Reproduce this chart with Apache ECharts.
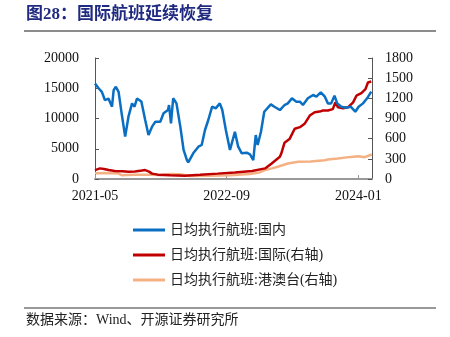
<!DOCTYPE html>
<html>
<head>
<meta charset="utf-8">
<script src="https://cdn.jsdelivr.net/npm/echarts@6/dist/echarts.min.js"></script>
<style>
html,body{margin:0;padding:0;background:#fff;}
#c{width:450px;height:337px;}
</style>
</head>
<body>
<div id="c"></div>
<script>
// ---- data ----
var tickLabels = ['2021-05', '2022-09', '2024-01'];
var seriesNames = ['日均执行航班:国内', '日均执行航班:国际(右轴)', '日均执行航班:港澳台(右轴)'];

var domesticDates = ['2021-05-01','2021-05-14','2021-05-26','2021-06-07','2021-06-20','2021-07-03','2021-07-09','2021-07-17','2021-07-27','2021-08-09','2021-08-21','2021-09-03','2021-09-16','2021-09-25','2021-10-04','2021-10-20','2021-11-04','2021-11-16','2021-11-29','2021-12-11','2021-12-29','2022-01-11','2022-01-27','2022-02-01','2022-02-08','2022-02-16','2022-02-28','2022-03-12','2022-03-24','2022-04-06','2022-04-11','2022-04-29','2022-05-18','2022-05-30','2022-06-12','2022-06-24','2022-07-08','2022-07-21','2022-08-06','2022-08-15','2022-08-28','2022-09-13','2022-10-01','2022-10-13','2022-10-26','2022-11-14','2022-11-26','2022-12-08','2022-12-17','2022-12-24','2023-01-06','2023-01-18','2023-01-25','2023-02-12','2023-02-25','2023-03-15','2023-04-02','2023-04-14','2023-04-29','2023-05-15','2023-05-28','2023-06-09','2023-06-27','2023-07-16','2023-07-28','2023-08-14','2023-08-29','2023-09-10','2023-09-22','2023-10-04','2023-10-14','2023-10-29','2023-11-16','2023-12-03','2023-12-20','2024-01-02','2024-01-18','2024-02-03','2024-02-18'];
var domesticValues = [15800,15000,14400,13050,13300,11950,14700,15250,14400,10570,7000,10300,12500,11950,13300,12800,9750,7270,8650,9470,9470,10860,11400,12230,9200,13340,12500,8650,4800,3140,2760,4250,5340,5620,8100,9750,11950,11680,12500,11400,8100,4800,7800,5340,4250,4350,4080,3140,7270,5620,7800,11120,11400,12340,11950,11400,12230,12500,13340,12780,12780,12230,13340,13890,13600,14330,13600,12500,12500,13770,12500,11950,11790,11950,11120,11950,12500,13340,14430];

var intlDates = ['2021-05-01','2021-05-19','2021-06-04','2021-06-21','2021-07-13','2021-08-10','2021-09-04','2021-09-27','2021-10-22','2021-11-04','2021-11-18','2021-11-29','2021-12-20','2022-02-04','2022-03-28','2022-05-24','2022-07-28','2022-10-01','2022-12-04','2023-01-21','2023-02-15','2023-03-15','2023-03-20','2023-04-02','2023-04-21','2023-05-09','2023-05-28','2023-06-15','2023-07-04','2023-07-22','2023-08-10','2023-08-22','2023-09-10','2023-09-28','2023-10-07','2023-10-17','2023-11-05','2023-11-23','2023-12-12','2023-12-24','2024-01-12','2024-01-27','2024-02-06','2024-02-18'];
var intlValues = [133,158,150,133,118,115,108,110,125,133,110,80,65,55,50,62,80,98,118,158,231,330,379,541,600,748,771,821,944,993,1003,1018,1018,1040,1140,1066,1052,1066,1140,1239,1278,1337,1435,1450];

var hkDates = ['2021-05-01','2021-06-07','2021-07-25','2021-08-10','2021-08-24','2021-09-27','2021-11-22','2021-12-28','2022-02-04','2022-03-10','2022-04-16','2022-06-28','2022-09-13','2022-11-25','2023-01-01','2023-01-21','2023-02-16','2023-03-07','2023-04-14','2023-05-22','2023-07-07','2023-08-28','2023-09-03','2023-09-10','2023-10-16','2023-12-04','2024-01-01','2024-01-24','2024-02-20'];
var hkValues = [85,90,85,55,60,65,65,60,75,70,45,50,55,75,98,133,158,182,231,255,261,280,255,290,305,329,340,325,364];

// months since 2021-05-01
function toMonths(s) {
  var p = s.split('-');
  return (+p[0] - 2021) * 12 + (+p[1] - 5) + (+p[2] - 1) / 30;
}
function pairs(dates, vals) {
  return dates.map(function (d, i) { return [toMonths(d), vals[i]]; });
}

var FONT = '"Liberation Serif", "Noto Sans CJK SC", serif';
var chart = echarts.init(document.getElementById('c'), null, {renderer: 'canvas'});
chart.setOption({
  animation: false,
  backgroundColor: '#fff',
  textStyle: {fontFamily: FONT},
  graphic: [
    {type: 'text', left: 26, top: 6, style: {text: '图28：国际航班延续恢复', font: 'bold 17px "Liberation Serif", "Noto Sans CJK SC", serif', fill: '#1f2a80'}},
    {type: 'line', shape: {x1: 24, y1: 31, x2: 436, y2: 31}, style: {stroke: '#8c8c8c', lineWidth: 2}},
    {type: 'line', shape: {x1: 24, y1: 308, x2: 436, y2: 308}, style: {stroke: '#333', lineWidth: 1}},
    {type: 'text', left: 26, top: 313, style: {text: '数据来源：Wind、开源证券研究所', font: '14px "Liberation Serif", "Noto Sans CJK SC", serif', fill: '#222'}}
  ],
  legend: {
    orient: 'vertical', left: 128, top: 218, itemWidth: 32, itemHeight: 3, itemGap: 11,
    icon: 'rect',
    textStyle: {fontFamily: FONT, fontSize: 14, color: '#222'},
    data: seriesNames
  },
  grid: {left: 95, right: 78, top: 58, bottom: 158},
  xAxis: {
    type: 'value', min: 0, max: 33.66, interval: 16,
    axisLine: {lineStyle: {color: '#999', width: 2}},
    axisTick: {inside: true, length: 4, lineStyle: {color: '#999'}},
    splitLine: {show: false},
    axisLabel: {
      showMaxLabel: false, margin: 10, color: '#111', fontSize: 14, fontFamily: FONT,
      formatter: function (v) { var i = Math.round(v / 16); return (Math.abs(v - i * 16) < 0.01 && tickLabels[i]) ? tickLabels[i] : ''; }
    }
  },
  yAxis: [
    {type: 'value', min: 0, max: 20000, interval: 5000,
     axisLine: {show: true, lineStyle: {color: '#555'}},
     axisTick: {show: true, inside: true, length: 4, lineStyle: {color: '#555'}},
     splitLine: {show: false},
     axisLabel: {margin: 16, color: '#111', fontSize: 14, fontFamily: FONT, formatter: function (v) { return String(v); }}},
    {type: 'value', min: 0, max: 1800, interval: 300,
     axisLine: {show: true, lineStyle: {color: '#555'}},
     axisTick: {show: true, inside: true, length: 4, lineStyle: {color: '#555'}},
     splitLine: {show: false},
     axisLabel: {margin: 13, color: '#111', fontSize: 14, fontFamily: FONT, formatter: function (v) { return String(v); }}}
  ],
  series: [
    {name: seriesNames[0], type: 'line', yAxisIndex: 0, showSymbol: false, data: pairs(domesticDates, domesticValues),
     itemStyle: {color: '#0a6fc2'}, lineStyle: {color: '#0a6fc2', width: 2.5}, z: 3},
    {name: seriesNames[1], type: 'line', yAxisIndex: 1, showSymbol: false, data: pairs(intlDates, intlValues),
     itemStyle: {color: '#c00000'}, lineStyle: {color: '#c00000', width: 2.5}, z: 2},
    {name: seriesNames[2], type: 'line', yAxisIndex: 1, showSymbol: false, data: pairs(hkDates, hkValues),
     itemStyle: {color: '#f4b183'}, lineStyle: {color: '#f4b183', width: 2.5}, z: 1}
  ]
});
</script>
</body>
</html>
